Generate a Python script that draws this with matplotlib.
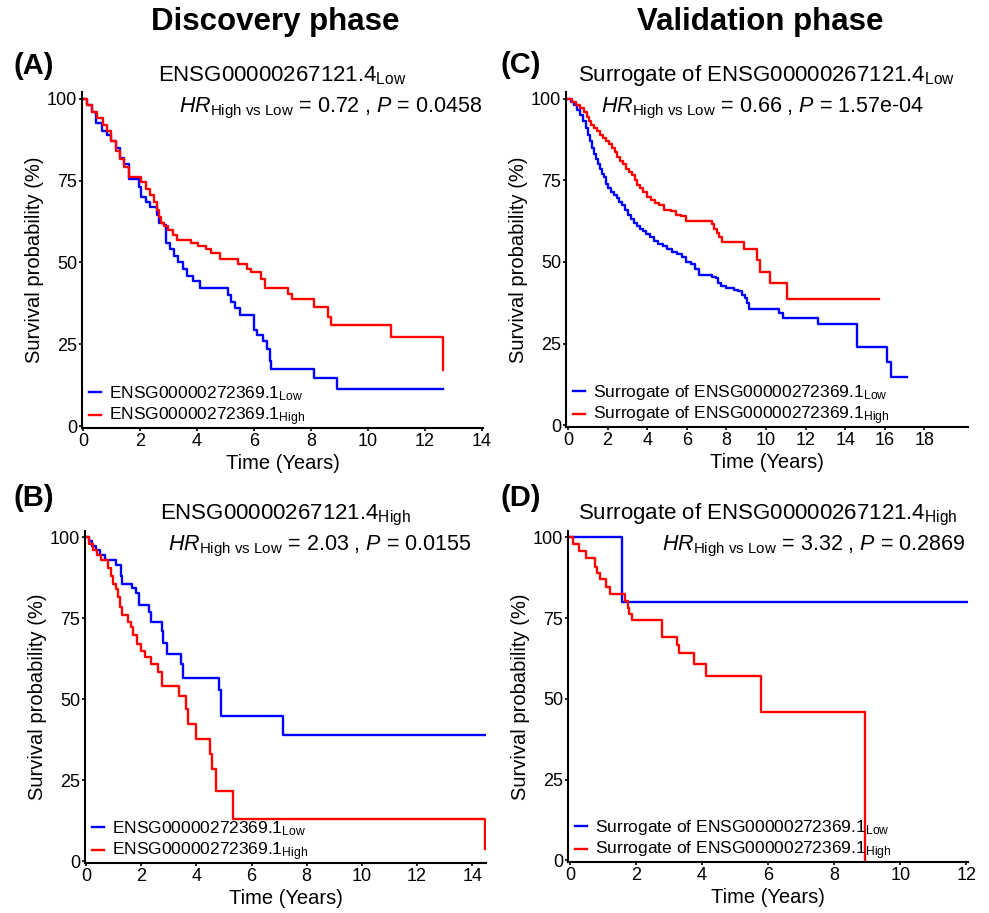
import matplotlib
matplotlib.use("Agg")
import matplotlib.pyplot as plt

plt.rcParams['font.family'] = ['Liberation Sans', 'DejaVu Sans']
plt.rcParams['mathtext.fontset'] = 'custom'
plt.rcParams['mathtext.rm'] = 'Liberation Sans'
plt.rcParams['mathtext.it'] = 'Liberation Sans:italic'
plt.rcParams['mathtext.bf'] = 'Liberation Sans:bold'

# ---------------- data (time in years, survival in %) ----------------
A_low_t = [0, 0.15, 0.3, 0.45, 0.65, 0.85, 1.0, 1.15, 1.3, 1.45, 1.6, 1.95, 2.05, 2.2, 2.35, 2.6, 2.65, 2.85, 2.9, 3.05,
           3.2, 3.35, 3.5, 3.65, 3.85, 4.1, 5.1, 5.2, 5.35, 5.5, 6.0, 6.1, 6.3, 6.45, 6.55, 6.6, 8.1, 8.9]
A_low_s = [100, 98, 96, 92.5, 90, 89, 87, 85, 82, 80, 75.5, 73, 70, 68.5, 67, 64.5, 62, 61.5, 56, 54,
           52, 50, 48, 46, 44.5, 42.2, 40, 38, 36, 34, 29.5, 28, 26, 23.5, 20, 17.5, 14.8, 11.5]
A_low_end = 12.62
A_high_t = [0, 0.15, 0.3, 0.5, 0.7, 0.85, 1.0, 1.15, 1.3, 1.45, 1.6, 2.05, 2.2, 2.35, 2.5, 2.6, 2.65, 2.75, 2.85, 3.0,
            3.15, 3.3, 3.8, 4.05, 4.3, 4.5, 4.8, 5.45, 5.75, 5.9, 6.25, 6.4, 7.2, 7.35, 8.1, 8.6, 8.7, 10.8, 12.62]
A_high_s = [100, 98, 96, 94, 92, 90, 87, 84, 81.5, 79, 76, 74.5, 72.5, 70.5, 68.5, 66, 64, 62, 61, 60,
            58.5, 57, 56, 55, 54, 53, 51, 49.5, 48, 47, 45, 42.3, 40.5, 39, 36.5, 33.5, 30.8, 27.2, 17.2]
A_high_end = 12.62

B_low_t = [0, 0.1, 0.2, 0.35, 0.5, 0.7, 1.1, 1.25, 1.32, 1.65, 1.8, 1.93, 2.28, 2.35, 2.74, 2.8, 2.95, 3.46, 3.52,
           4.83, 4.9, 7.14]
B_low_s = [100, 99, 97.5, 96, 94.5, 93, 91.5, 88, 85.5, 84.5, 83, 79, 77, 74, 71, 67.5, 64, 61, 56.5, 53, 45, 39]
B_low_end = 14.45
B_high_t = [0, 0.1, 0.25, 0.4, 0.55, 0.8, 0.9, 0.98, 1.1, 1.17, 1.24, 1.3, 1.52, 1.62, 1.7, 1.85, 2.0, 2.15, 2.35,
            2.6, 2.74, 3.36, 3.62, 3.7, 3.97, 4.48, 4.58, 4.72, 5.33, 14.45]
B_high_s = [100, 98, 96, 94.5, 93, 90.5, 88, 85.5, 84, 81.5, 78.5, 76.2, 74, 72.5, 70, 67, 65, 63, 61,
            58.5, 54.2, 51, 47, 42.5, 37.8, 33.2, 28.5, 21.8, 13, 3.7]
B_high_end = 14.45

C_low_t = [0, 0.15, 0.3, 0.45, 0.6, 0.75, 0.9, 1.0, 1.1, 1.2, 1.3, 1.4, 1.5, 1.6, 1.7, 1.8, 1.9, 2.0, 2.15, 2.3,
           2.45, 2.6, 2.75, 2.9, 3.05, 3.2, 3.35, 3.5, 3.65, 3.8, 3.95, 4.15, 4.35, 4.55, 4.8, 5.0, 5.25, 5.5, 5.75,
           5.95, 6.2, 6.4, 6.6, 7.25, 7.45, 7.6, 7.75, 8.0, 8.4, 8.6, 8.8, 8.95, 9.05, 9.15, 10.65, 10.85, 12.6,
           14.6, 16.1, 16.3]
C_low_s = [100, 99, 98, 96.5, 95, 93, 91, 89, 87, 85, 83, 81.5, 80, 78.5, 77, 76, 74, 72.5, 71.5, 70.5,
           69.5, 68.5, 67.5, 66, 64.5, 63, 62, 61, 60, 59.5, 58.5, 57.5, 56.5, 55.5, 55, 54, 53, 52.5, 51.5,
           50, 49.5, 48, 46, 45.5, 45, 43.5, 42.5, 42, 41.5, 41, 40, 39, 37.5, 35.5, 34.5, 33, 31,
           24, 19.5, 14.8]
C_low_end = 17.1
C_high_t = [0, 0.2, 0.4, 0.6, 0.8, 0.95, 1.05, 1.15, 1.3, 1.45, 1.6, 1.75, 1.9, 2.05, 2.2, 2.35, 2.5, 2.65, 2.8, 2.95,
            3.1, 3.25, 3.4, 3.5, 3.65, 3.8, 4.0, 4.2, 4.4, 4.6, 4.85, 5.2, 5.45, 5.7, 5.95, 7.25, 7.35, 7.5, 7.65,
            7.8, 8.9, 9.55, 9.7, 10.2, 11.05]
C_high_s = [100, 99, 98, 97, 96, 94.5, 93, 92, 91, 90, 89, 88, 87, 86, 85, 83.5, 82, 81, 80, 78.5,
            77.5, 76.5, 75, 73.5, 72.5, 71.5, 70, 69, 68, 67.5, 66, 65.5, 64.5, 64, 62.5, 61.5, 60, 59, 57.5,
            56, 54, 50.5, 47, 43.5, 38.8]
C_high_end = 15.7

D_low_t = [0, 1.59]
D_low_s = [100, 80]
D_low_end = 12.05
D_high_t = [0, 0.1, 0.28, 0.5, 0.75, 0.82, 0.9, 1.08, 1.2, 1.67, 1.75, 1.8, 1.88, 2.8, 3.23, 3.3, 3.77, 4.12, 5.77, 8.92]
D_high_s = [100, 98, 95.7, 93.5, 91, 89, 87, 84.8, 82.6, 80.4, 78.3, 76.4, 74.5, 69.3, 66.7, 64.2, 60.8, 57.2, 45.8, 0]
D_high_end = 8.92

titles = [r"ENSG00000267121.4$_{\mathrm{Low}}$",
          r"ENSG00000267121.4$_{\mathrm{High}}$",
          r"Surrogate of ENSG00000267121.4$_{\mathrm{Low}}$",
          r"Surrogate of ENSG00000267121.4$_{\mathrm{High}}$"]
hr_vals = ["0.72", "2.03", "0.66", "3.32"]
p_vals = ["0.0458", "0.0155", "1.57e-04", "0.2869"]
legend_disc = [r"ENSG00000272369.1$_{\mathrm{Low}}$", r"ENSG00000272369.1$_{\mathrm{High}}$"]
legend_val = [r"Surrogate of ENSG00000272369.1$_{\mathrm{Low}}$", r"Surrogate of ENSG00000272369.1$_{\mathrm{High}}$"]
yticks = [0, 25, 50, 75, 100]

fig = plt.figure(figsize=(9.89, 9.13), dpi=100)

panels = [
    dict(rect=[0.0829, 0.5312, 0.4055, 0.368], xlim=(-0.035, 14.035), xt=list(range(0, 15, 2)),
         low=(A_low_t, A_low_s, A_low_end), high=(A_high_t, A_high_s, A_high_end),
         title=titles[0], hr=hr_vals[0], p=p_vals[0], hrx=0.62, leg=legend_disc),
    dict(rect=[0.0859, 0.0548, 0.4055, 0.3636], xlim=(-0.04, 14.5), xt=list(range(0, 15, 2)),
         low=(B_low_t, B_low_s, B_low_end), high=(B_high_t, B_high_s, B_high_end),
         title=titles[1], hr=hr_vals[1], p=p_vals[1], hrx=0.586, leg=legend_disc),
    dict(rect=[0.5723, 0.5323, 0.4065, 0.3669], xlim=(-0.1, 20.2), xt=list(range(0, 19, 2)),
         low=(C_low_t, C_low_s, C_low_end), high=(C_high_t, C_high_s, C_high_end),
         title=titles[2], hr=hr_vals[2], p=p_vals[2], hrx=0.488, leg=legend_val),
    dict(rect=[0.5743, 0.0559, 0.4044, 0.3625], xlim=(-0.06, 12.05), xt=list(range(0, 13, 2)),
         low=(D_low_t, D_low_s, D_low_end), high=(D_high_t, D_high_s, D_high_end),
         title=titles[3], hr=hr_vals[3], p=p_vals[3], hrx=0.615, leg=legend_val),
]

for pn in panels:
    ax = fig.add_axes(pn['rect'])
    for (t, s, end), col, lab in [(pn['low'], '#0000FF', pn['leg'][0]), (pn['high'], '#FF0000', pn['leg'][1])]:
        tt = list(t) + [end]
        ss = list(s) + [s[-1]]
        ax.step(tt, ss, where='post', color=col, lw=1.7, label=lab)
    ax.set_xlim(*pn['xlim'])
    ax.set_ylim(-0.5, 102)
    ax.set_xticks(pn['xt'])
    ax.set_yticks(yticks)
    for sp in ['top', 'right']:
        ax.spines[sp].set_visible(False)
    for sp in ['left', 'bottom']:
        ax.spines[sp].set_linewidth(1.5)
    ax.tick_params(axis='both', labelsize=13, length=2.5, width=1.2, pad=1, colors='black')
    ax.set_xlabel("Time (Years)", fontsize=14.5, labelpad=3)
    ax.set_ylabel("Survival probability (%)", fontsize=14.5, labelpad=2)
    ax.set_title(pn['title'], fontsize=16, pad=8)
    ax.text(pn['hrx'], 0.952, r"$HR_{\mathrm{High\ vs\ Low}}$ = " + pn['hr'] + r" , $P$ = " + pn['p'],
            transform=ax.transAxes, ha='center', va='center', fontsize=15.5)
    ax.legend(loc='lower left', bbox_to_anchor=(0.0, -0.022), frameon=False, fontsize=12.5,
              handlelength=0.7, handletextpad=0.45, labelspacing=0.15, borderaxespad=0.0)

fig.text(275 / 989, 1 - 30 / 913, "Discovery phase", ha='center', va='baseline', fontsize=22.5, fontweight='bold')
fig.text(760 / 989, 1 - 30 / 913, "Validation phase", ha='center', va='baseline', fontsize=22.5, fontweight='bold')
for lab, x, y in [("(A)", 34, 66), ("(B)", 34, 498), ("(C)", 521, 65), ("(D)", 521, 498)]:
    fig.text(x / 989, 1 - y / 913, lab, ha='center', va='center', fontsize=21, fontweight='bold')

fig.savefig("out.png", dpi=100)
